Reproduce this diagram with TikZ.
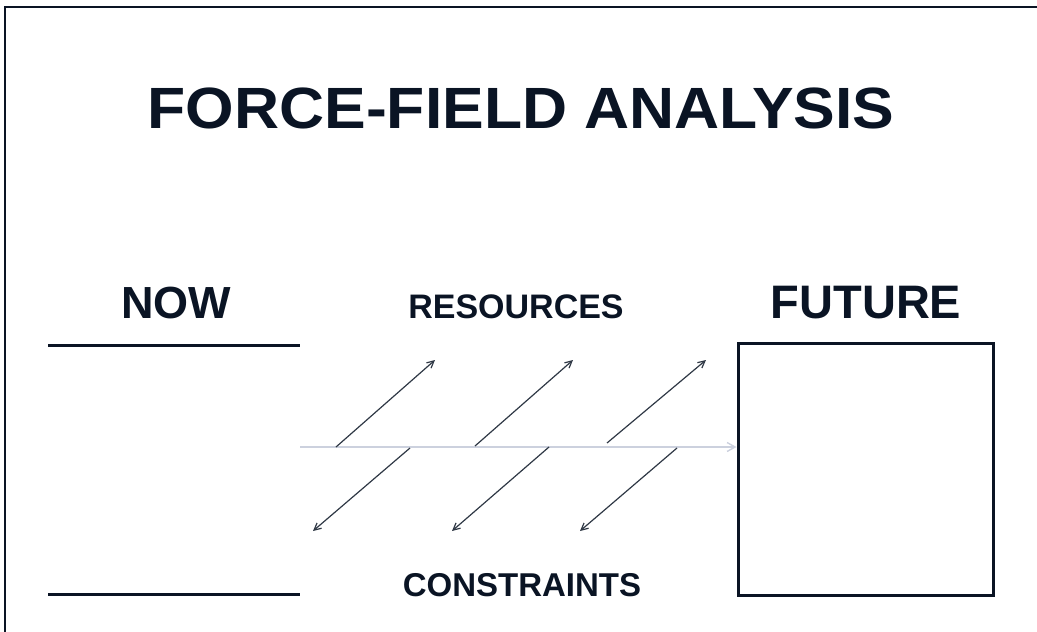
\documentclass[tikz,border=0pt]{standalone}
\usepackage{fontspec}
\setmainfont{Liberation Sans}
\usetikzlibrary{arrows.meta}
\definecolor{ink}{rgb}{0.04,0.08,0.14}
\definecolor{faint}{rgb}{0.80,0.82,0.87}
\tikzset{
  lbl/.style={inner sep=0pt, anchor=base, text=ink, font=\bfseries},
  force/.style={draw=ink!85, line width=1.2pt, -{Straight Barb[length=7pt,width=7pt]}},
  rule/.style={draw=ink, line width=3pt},
}
\begin{document}
\begin{tikzpicture}[x=1pt,y=-1pt]
\useasboundingbox (0,0) rectangle (1037,632);
% frame
\draw[ink, line width=1.2pt] (5,632) -- (5,7) -- (1037,7);
% title
\node[lbl, font=\fontsize{60}{60}\bfseries] (title) at (521,128) {\scalebox{1.04}[0.97]{FORCE-FIELD ANALYSIS}};
% headings
\node[lbl, font=\fontsize{45}{45}\bfseries] (now) at (176,318) {NOW};
\node[lbl, font=\fontsize{34}{34}\bfseries] (res) at (516,318) {RESOURCES};
\node[lbl, font=\fontsize{47}{47}\bfseries] (fut) at (866,318) {FUTURE};
\node[lbl, font=\fontsize{33}{33}\bfseries] (con) at (522,596) {CONSTRAINTS};
% now lines
\coordinate (n1a) at (48,345); \coordinate (n1b) at (300,345);
\coordinate (n2a) at (48,594); \coordinate (n2b) at (300,594);
\draw[rule] (n1a) -- (n1b);
\draw[rule] (n2a) -- (n2b);
% future box
\node[draw=ink, line width=3pt, minimum width=255pt, minimum height=252pt, inner sep=0pt] (box) at (865.5,469) {};
% horizontal baseline
\coordinate (base) at (300,447);
\draw[draw=faint, line width=1.4pt, -{Straight Barb[length=8pt,width=9pt]}] (base) -- (box.west |- base);
% resources arrows
\coordinate (r1s) at (336,447); \coordinate (r1e) at (435,360);
\coordinate (r2s) at (475,446); \coordinate (r2e) at (573,360);
\coordinate (r3s) at (607,443); \coordinate (r3e) at (706,360);
\draw[force] (r1s) -- (r1e);
\draw[force] (r2s) -- (r2e);
\draw[force] (r3s) -- (r3e);
% constraint arrows
\coordinate (c1s) at (410,448); \coordinate (c1e) at (313,531);
\coordinate (c2s) at (549,447); \coordinate (c2e) at (452,531);
\coordinate (c3s) at (677,448); \coordinate (c3e) at (580,531);
\draw[force] (c1s) -- (c1e);
\draw[force] (c2s) -- (c2e);
\draw[force] (c3s) -- (c3e);
\end{tikzpicture}
\end{document}
